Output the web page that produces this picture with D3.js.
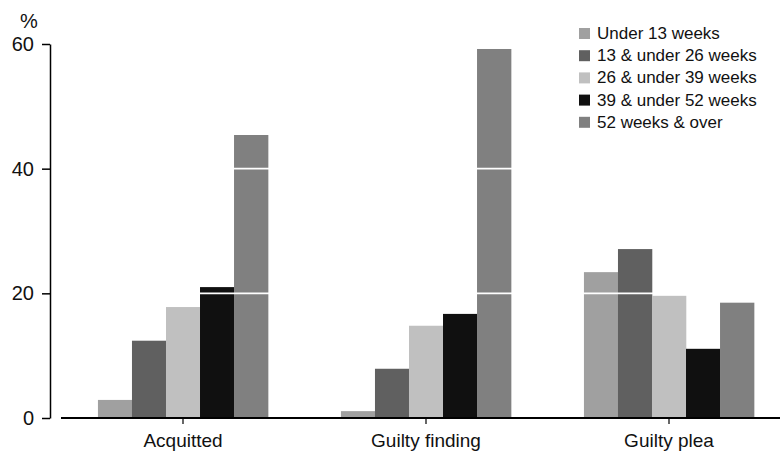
<!DOCTYPE html>
<html>
<head>
<meta charset="utf-8">
<script src="https://cdn.jsdelivr.net/npm/d3@7"></script>
<style>
  html, body { margin: 0; padding: 0; background: #fff; }
  svg { display: block; font-family: "Liberation Sans", Arial, sans-serif; }
</style>
</head>
<body>
<svg id="chart" width="780" height="452"></svg>
<script>
const categories = ["Acquitted", "Guilty finding", "Guilty plea"];
const seriesNames = ["Under 13 weeks", "13 & under 26 weeks", "26 & under 39 weeks", "39 & under 52 weeks", "52 weeks & over"];
const under13 = [2.9, 1.1, 23.4];
const w13to26 = [12.4, 7.9, 27.1];
const w26to39 = [17.8, 14.8, 19.6];
const w39to52 = [21.0, 16.7, 11.1];
const w52plus = [45.4, 59.2, 18.5];
const yTicks = [0, 20, 40, 60];
const colors = ["#a0a0a0", "#606060", "#c0c0c0", "#101010", "#808080"];

const seriesValues = [under13, w13to26, w26to39, w39to52, w52plus];
const data = categories.map((c, i) => ({
  category: c,
  values: seriesNames.map((s, j) => ({ series: s, idx: j, value: seriesValues[j][i] }))
}));

const svg = d3.select("#chart");

const y = d3.scaleLinear().domain([0, 60]).range([418, 44]);
const x0 = d3.scaleBand().domain(categories).range([61.5, 790.5]).paddingInner(0.3).paddingOuter(0.15);
const x1 = d3.scaleBand().domain(d3.range(seriesNames.length)).range([0, x0.bandwidth()]);

// bars
const groups = svg.append("g").selectAll("g").data(data).join("g")
  .attr("transform", d => `translate(${x0(d.category)},0)`);
groups.selectAll("rect").data(d => d.values).join("rect")
  .attr("x", d => x1(d.idx))
  .attr("width", x1.bandwidth() + 0.3)
  .attr("y", d => y(d.value))
  .attr("height", d => y(0) - y(d.value))
  .attr("fill", d => colors[d.idx]);

// white gridlines over bars
svg.append("g").selectAll("line").data(yTicks.filter(t => t > 0)).join("line")
  .attr("x1", 61).attr("x2", 780)
  .attr("y1", d => y(d)).attr("y2", d => y(d))
  .attr("stroke", "#fff").attr("stroke-width", 1.6);

// y axis
const yAxis = svg.append("g").attr("transform", "translate(50,0)")
  .call(d3.axisLeft(y).tickValues(yTicks).tickSize(8).tickPadding(8).tickSizeOuter(0));
yAxis.select(".domain").attr("stroke", "#000").attr("stroke-width", 1.5);
yAxis.selectAll(".tick line").attr("stroke", "#000").attr("stroke-width", 1.5);
yAxis.selectAll(".tick text").attr("font-size", 20).attr("fill", "#111")
  .attr("font-family", "Liberation Sans, Arial, sans-serif");

// % label
svg.append("text").attr("x", 29).attr("y", 28).attr("text-anchor", "middle")
  .attr("font-size", 20).attr("fill", "#111").text("%");

// x axis
const xAxis = svg.append("g").attr("transform", "translate(0,418)")
  .call(d3.axisBottom(x0).tickSize(6).tickPadding(10).tickSizeOuter(0));
xAxis.select(".domain").remove();
xAxis.append("line").attr("x1", 61).attr("x2", 780).attr("y1", 0).attr("y2", 0)
  .attr("stroke", "#000").attr("stroke-width", 2);
xAxis.selectAll(".tick line").attr("stroke", "#000").attr("stroke-width", 1.2);
xAxis.selectAll(".tick text").attr("font-size", 19).attr("fill", "#111")
  .attr("font-family", "Liberation Sans, Arial, sans-serif");

// legend
const legend = svg.append("g").attr("transform", "translate(579,28)");
const items = legend.selectAll("g").data(seriesNames).join("g")
  .attr("transform", (d, i) => `translate(0,${i * 22.2})`);
items.append("rect").attr("width", 11).attr("height", 11).attr("fill", (d, i) => colors[i]);
items.append("text").attr("x", 18).attr("y", 11).attr("font-size", 17).attr("fill", "#111").text(d => d);
</script>
</body>
</html>
